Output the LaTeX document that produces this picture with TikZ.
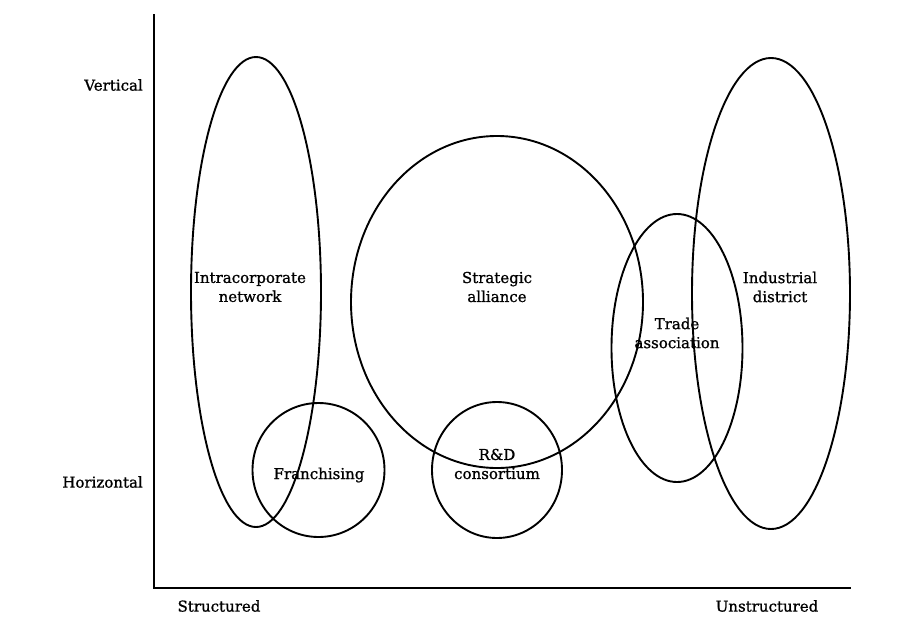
\documentclass[tikz,border=0pt]{standalone}
\usepackage{fontspec}
\setmainfont{DejaVu Serif}[FakeBold=1]
\usetikzlibrary{shapes.geometric}
\begin{document}
\begin{tikzpicture}[x=1pt,y=-1pt,
  set/.style={ellipse,draw,line width=1.9pt,inner sep=0pt},
  lbl/.style={font=\fontsize{15}{19}\selectfont,align=center,inner sep=0pt},
  axis/.style={line width=2pt}]
\useasboundingbox (0,0) rectangle (900,632);
% axes
\coordinate (top) at (154,14);
\coordinate (orig) at (154,588);
\coordinate (right) at (851,588);
\draw[axis] (top) -- (orig) -- (right);
% sets
\node[set,minimum width=130pt,minimum height=470pt] (intra) at (256,292) {};
\node[set,minimum width=132pt,minimum height=134pt] (franch) at (318.5,470) {};
\node[set,minimum width=292pt,minimum height=332pt] (strat) at (497,302) {};
\node[set,minimum width=130pt,minimum height=136pt] (rd) at (497,470) {};
\node[set,minimum width=131pt,minimum height=268pt] (trade) at (677,348) {};
\node[set,minimum width=158pt,minimum height=471pt] (indus) at (771,293.5) {};
% labels
\node[lbl] (lintra) at (250,287) {Intracorporate\\network};
\node[lbl] (lstrat) at (497,287) {Strategic\\alliance};
\node[lbl] (lindus) at (780,287) {Industrial\\district};
\node[lbl] (ltrade) at (677,333) {Trade\\association};
\node[lbl] (lfranch) at (319,475) {Franchising};
\node[lbl] (lrd) at (497,464) {R\&D\\consortium};
\node[lbl,anchor=east] (lvert) at (143,85) {Vertical};
\node[lbl,anchor=east] (lhor) at (143,482) {Horizontal};
\node[lbl] (lstruct) at (219,606) {Structured};
\node[lbl] (lunstruct) at (767,606) {Unstructured};
\end{tikzpicture}
\end{document}
